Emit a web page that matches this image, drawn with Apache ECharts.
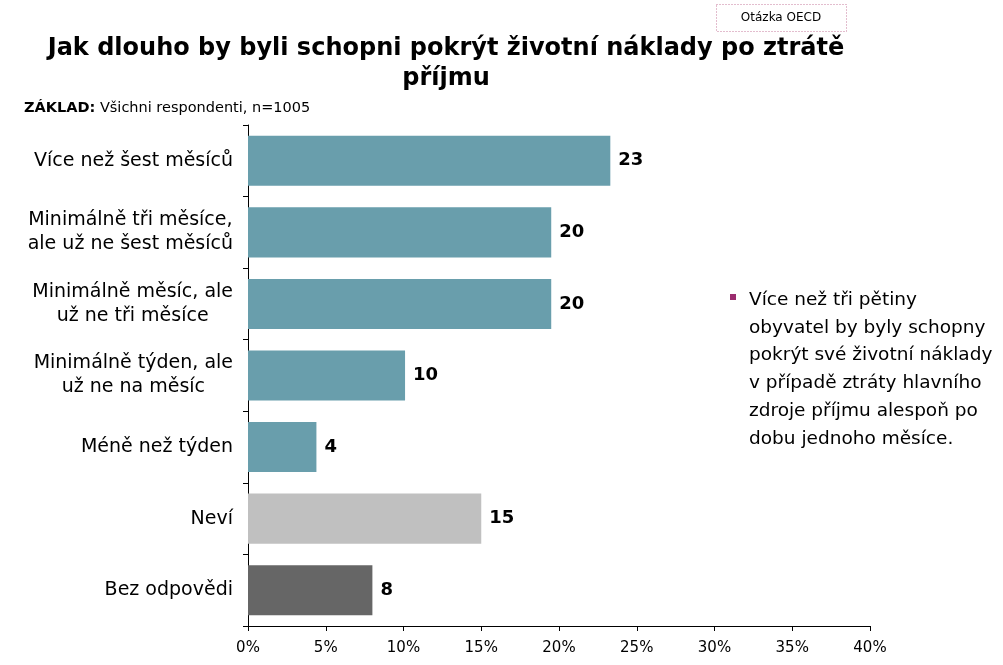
<!DOCTYPE html>
<html><head><meta charset="utf-8">
<script src="https://cdn.jsdelivr.net/npm/echarts@6/dist/echarts.min.js"></script>
<style>html,body{margin:0;padding:0;background:#fff}#c{width:1003px;height:665px}</style>
</head><body><div id="c"></div>
<script>
const categories = [
  'Více než šest měsíců',
  'Minimálně tři měsíce,\nale už ne šest měsíců',
  'Minimálně měsíc, ale\nuž ne tři měsíce',
  'Minimálně týden, ale\nuž ne na měsíc',
  'Méně než týden',
  'Neví',
  'Bez odpovědi'
];
const values = [23.3, 19.5, 19.5, 10.1, 4.4, 15.0, 8.0];
const valueLabels = ['23', '20', '20', '10', '4', '15', '8'];
const barColors = ['#699EAC', '#699EAC', '#699EAC', '#699EAC', '#699EAC', '#C0C0C0', '#666666'];
const axisMin = 0, axisMax = 40, axisStep = 5;
const titleText = 'Jak dlouho by byli schopni pokrýt životní náklady po ztrátě\npříjmu';
const baseLabel = 'ZÁKLAD:';
const baseText = ' Všichni respondenti, n=1005';
const badgeText = 'Otázka OECD';
const noteLines = [
  'Více než tři pětiny',
  'obyvatel by byly schopny',
  'pokrýt své životní náklady',
  'v případě ztráty hlavního',
  'zdroje příjmu alespoň po',
  'dobu jednoho měsíce.'
];

const FONT = "'DejaVu Sans', Verdana, sans-serif";
const chart = echarts.init(document.getElementById('c'), null, {renderer: 'canvas'});

const option = {
  backgroundColor: '#ffffff',
  animation: false,
  textStyle: {fontFamily: FONT},
  title: [
    {
      text: titleText,
      left: 446, top: 34, textAlign: 'center', padding: 0,
      textStyle: {fontFamily: FONT, fontSize: 24, fontWeight: 'bold', color: '#000', lineHeight: 30, align: 'center'}
    },
    {
      text: '{b|' + baseLabel + '}{n|' + baseText + '}',
      left: 24, top: 100, padding: 0,
      textStyle: {
        fontFamily: FONT, fontWeight: 'normal', lineHeight: 17,
        rich: {
          b: {fontFamily: FONT, fontSize: 14.5, fontWeight: 'bold', color: '#000', lineHeight: 17},
          n: {fontFamily: FONT, fontSize: 14.5, fontWeight: 'normal', color: '#000', lineHeight: 17}
        }
      }
    }
  ],
  grid: {left: 248, right: 133, top: 125, bottom: 39, containLabel: false},
  xAxis: {
    type: 'value', min: axisMin, max: axisMax, interval: axisStep,
    axisLine: {show: true, lineStyle: {color: '#000', width: 1}},
    axisTick: {show: true, length: 5, lineStyle: {color: '#000'}},
    splitLine: {show: false},
    axisLabel: {formatter: '{value}%', fontFamily: FONT, fontSize: 15, color: '#000', margin: 15}
  },
  yAxis: {
    type: 'category', inverse: true, data: categories,
    axisLine: {show: true, lineStyle: {color: '#000', width: 1}},
    axisTick: {show: true, length: 5, lineStyle: {color: '#000'}},
    axisLabel: {
      fontFamily: FONT, fontSize: 19, color: '#000', margin: 15,
      formatter: function (v) { return v.split('\n').map(function (l) { return '{c|' + l + '}'; }).join('\n'); },
      rich: {c: {fontFamily: FONT, fontSize: 19, color: '#000', align: 'center', lineHeight: 24}}
    }
  },
  series: [{
    type: 'bar',
    data: values.map(function (v, i) { return {value: v, itemStyle: {color: barColors[i]}}; }),
    barCategoryGap: '30%',
    label: {
      show: true, position: 'right', distance: 8,
      fontFamily: FONT, fontSize: 18, fontWeight: 'bold', color: '#000',
      formatter: function (p) { return valueLabels[p.dataIndex]; }
    }
  }],
  graphic: [
    {
      type: 'rect', shape: {x: 716.5, y: 4.5, width: 130, height: 27},
      style: {fill: '#fff', stroke: '#C77A9C', lineWidth: 1, lineDash: [1, 2]}
    },
    {
      type: 'text', x: 781, y: 18,
      style: {text: badgeText, font: '12px ' + FONT, fill: '#000', textAlign: 'center', textVerticalAlign: 'middle'}
    },
    {
      type: 'rect', shape: {x: 730, y: 294, width: 6, height: 6},
      style: {fill: '#9B2C6E'}
    },
    {
      type: 'text', x: 749, y: 286,
      style: {text: noteLines.join('\n'), font: '18.5px ' + FONT, fill: '#000', lineHeight: 27.8, textAlign: 'left', textVerticalAlign: 'top'}
    }
  ]
};
chart.setOption(option);
</script>
</body></html>
